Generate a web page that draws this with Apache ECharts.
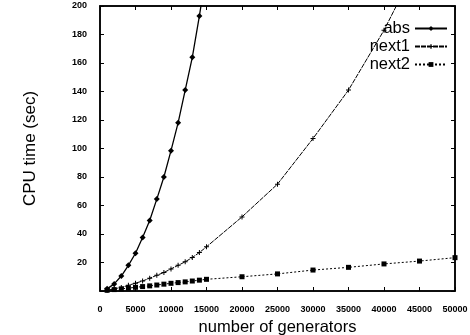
<!DOCTYPE html>
<html>
<head>
<meta charset="utf-8">
<script src="https://cdn.jsdelivr.net/npm/echarts@6/dist/echarts.min.js"></script>
<style>
html,body{margin:0;padding:0;background:#fff;}
#chart{width:470px;height:335px;}
</style>
</head>
<body>
<div id="chart"></div>
<script>
// x = number of generators, y = CPU time (sec)
var absX = [1000, 2000, 3000, 4000, 5000, 6000, 7000, 8000, 9000, 10000, 11000, 12000, 13000, 14000, 15000];
var absY = [1.5, 5, 10.5, 18, 26.5, 37.5, 49.5, 64.5, 80, 98.5, 118, 141, 164, 193, 225];

var next1X = [1000, 2000, 3000, 4000, 5000, 6000, 7000, 8000, 9000, 10000, 11000, 12000, 13000, 14000, 15000, 20000, 25000, 30000, 35000, 40000, 45000];
var next1Y = [0.5, 1.5, 2.5, 4, 5.5, 7, 9, 11, 13, 15.5, 18, 20.5, 23.5, 27, 31, 52, 75, 107, 141, 183, 232];

var next2X = [1000, 2000, 3000, 4000, 5000, 6000, 7000, 8000, 9000, 10000, 11000, 12000, 13000, 14000, 15000, 20000, 25000, 30000, 35000, 40000, 45000, 50000];
var next2Y = [0.5, 1, 1.5, 2, 2.6, 3.1, 3.6, 4.2, 4.8, 5.4, 5.9, 6.4, 7, 7.6, 8.2, 10, 12, 14.7, 16.6, 19, 21, 23.4];

var plusPath = 'path://M4,0 L6,0 L6,4 L10,4 L10,6 L6,6 L6,10 L4,10 L4,6 L0,6 L0,4 L4,4 Z';

function pairs(xs, ys) {
    var out = [];
    for (var i = 0; i < xs.length; i++) {
        out.push([xs[i], ys[i]]);
    }
    return out;
}

var myChart = echarts.init(document.getElementById('chart'));
var font = 'Liberation Sans';

function line() {
    return {show: true, onZero: false, lineStyle: {color: '#000', width: 1.5}};
}
function tick() {
    return {show: true, inside: true, length: 4, lineStyle: {color: '#000', width: 1}};
}

var option = {
    animation: false,
    backgroundColor: '#fff',
    grid: {
        left: 100, right: 15, top: 6, bottom: 44,
        outerBoundsMode: 'none',
        show: true, borderColor: '#000', borderWidth: 1.5
    },
    legend: {
        orient: 'vertical',
        right: 17,
        top: 15,
        align: 'right',
        itemWidth: 32,
        itemHeight: 6,
        itemGap: 1,
        textStyle: {fontFamily: font, fontSize: 16.5, lineHeight: 15, color: '#000'},
        data: ['abs', 'next1', 'next2']
    },
    xAxis: [{
        type: 'value',
        min: 0,
        max: 50000,
        interval: 5000,
        name: 'number of generators',
        nameLocation: 'middle',
        nameGap: 28,
        nameTextStyle: {fontFamily: font, fontSize: 16.5, color: '#000'},
        axisLine: line(),
        axisTick: tick(),
        splitLine: {show: false},
        axisLabel: {
            fontFamily: font, fontSize: 9, fontWeight: 'bold', color: '#000', margin: 14,
            formatter: function (v) { return String(v); }
        }
    }, {
        type: 'value',
        position: 'top',
        min: 0,
        max: 50000,
        interval: 5000,
        axisLine: line(),
        axisTick: tick(),
        splitLine: {show: false},
        axisLabel: {show: false}
    }],
    yAxis: [{
        type: 'value',
        min: 0,
        max: 200,
        interval: 20,
        name: 'CPU time (sec)',
        nameLocation: 'middle',
        nameGap: 61,
        nameTextStyle: {fontFamily: font, fontSize: 17, color: '#000'},
        axisLine: line(),
        axisTick: tick(),
        splitLine: {show: false},
        axisLabel: {
            fontFamily: font, fontSize: 9, fontWeight: 'bold', color: '#000', margin: 13,
            formatter: function (v) { return v === 0 ? '' : String(v); }
        }
    }, {
        type: 'value',
        position: 'right',
        min: 0,
        max: 200,
        interval: 20,
        axisLine: line(),
        axisTick: tick(),
        splitLine: {show: false},
        axisLabel: {show: false}
    }],
    series: [{
        name: 'abs',
        type: 'line',
        clip: true,
        symbol: 'diamond',
        symbolSize: 6,
        itemStyle: {color: '#000'},
        lineStyle: {color: '#000', width: 1.3, type: 'solid'},
        data: pairs(absX, absY)
    }, {
        name: 'next1',
        type: 'line',
        clip: true,
        symbol: plusPath,
        symbolSize: 5,
        itemStyle: {color: '#000'},
        lineStyle: {color: '#000', width: 1, type: [5, 1]},
        data: pairs(next1X, next1Y)
    }, {
        name: 'next2',
        type: 'line',
        clip: true,
        symbol: 'rect',
        symbolSize: 5,
        itemStyle: {color: '#000'},
        lineStyle: {color: '#000', width: 1, type: [2, 2]},
        data: pairs(next2X, next2Y)
    }]
};

myChart.setOption(option);
</script>
</body>
</html>
